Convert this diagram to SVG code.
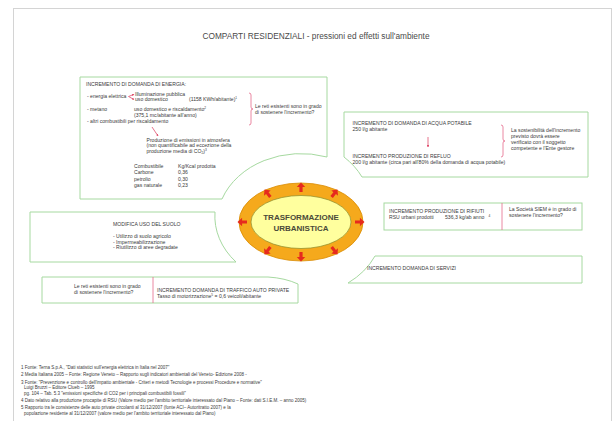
<svg xmlns="http://www.w3.org/2000/svg" width="615" height="421" viewBox="0 0 615 421">
<defs>
<style>
.page{fill:#fff;stroke:#d4d4d4;stroke-width:1}
.box{fill:#fff;stroke:#a6d9a0;stroke-width:1}
.t{font-family:"Liberation Sans",Arial,sans-serif;font-size:5.1px;fill:#3a3a3a}
.fn{font-family:"Liberation Sans",Arial,sans-serif;font-size:4.5px;fill:#3a3a3a}
.sup{font-size:3.2px}
.title{font-family:"Liberation Sans",Arial,sans-serif;font-size:8.3px;fill:#4a4a4a}
.ctr{font-family:"Liberation Sans",Arial,sans-serif;font-size:8px;font-weight:bold;fill:#4a4a3a;text-anchor:middle}
.br{fill:none;stroke:#e46a8c;stroke-width:0.8}
.ln{fill:none;stroke:#e0506e;stroke-width:0.8}
.ra{fill:#e62a1e}
</style>
<marker id="ah" viewBox="0 0 6 6" refX="5" refY="3" markerWidth="3" markerHeight="3" orient="auto">
<path d="M0,0 L6,3 L0,6 Z" fill="#e0506e"/>
</marker>
<polygon id="bar" points="0,0 4.2,4.6 1.6,4.6 1.6,9.5 -1.6,9.5 -1.6,4.6 -4.2,4.6"/>
</defs>
<rect x="0" y="0" width="615" height="421" fill="#fff"/>
<rect class="page" x="13.5" y="8.5" width="598" height="430"/>
<text class="title" x="316" y="39" text-anchor="middle">COMPARTI RESIDENZIALI - pressioni ed effetti sull'ambiente</text>

<g id="energia">
<path class="box" d="M80,77 H327 V157 A84,69 0 0,0 222,199 H80 Z"/>
<text class="t" x="86" y="86">INCREMENTO DI DOMANDA DI ENERGIA:</text>
<text class="t" x="87" y="98">- energia elettrica</text>
<text class="t" x="135" y="95.5">Illuminazione pubblica</text>
<text class="t" x="135" y="101">uso domestico</text>
<text class="t" x="189" y="101">(1158 KWh/abitante)<tspan class="sup" dy="-1.8">1</tspan></text>
<text class="t" x="87" y="110.8">- metano</text>
<text class="t" x="134" y="110.8">uso domestico e riscaldamento<tspan class="sup" dy="-1.8">2</tspan></text>
<text class="t" x="134" y="117">(375,1 mc/abitante all'anno)</text>
<text class="t" x="87" y="123.3">- altri combustibili per riscaldamento</text>
<text class="t" x="146.5" y="141.7">Produzione di emissioni in atmosfera</text>
<text class="t" x="146.5" y="147.4">(non quantificabile ad eccezione della</text>
<text class="t" x="146.5" y="153.2">produzione media di CO<tspan class="sup" dy="1">2</tspan><tspan dy="-1">)</tspan><tspan class="sup" dy="-1.8">3</tspan></text>
<text class="t" x="134" y="168.4">Combustibile</text>
<text class="t" x="178" y="168.4">Kg/Kcal prodotta</text>
<text class="t" x="134" y="174.4">Carbone</text>
<text class="t" x="178" y="174.4">0,36</text>
<text class="t" x="134" y="180.5">petrolio</text>
<text class="t" x="178" y="180.5">0,30</text>
<text class="t" x="134" y="186.5">gas naturale</text>
<text class="t" x="178" y="186.5">0,23</text>
<text class="t" x="255" y="107.7">Le reti esistenti sono in grado</text>
<text class="t" x="255" y="113.8">di sostenere l'incremento?</text>
</g>

<g id="acqua">
<path class="box" d="M344,112 H588 V177 H362 A84,69 0 0,0 344,157 Z"/>
<text class="t" x="352.5" y="125">INCREMENTO DI DOMANDA DI ACQUA POTABILE</text>
<text class="t" x="352.5" y="130.8">250 l/g abitante</text>
<text class="t" x="352.5" y="157.5">INCREMENTO PRODUZIONE DI REFLUO</text>
<text class="t" x="352.5" y="164">200 l/g abitante (circa pari all'80% della domanda di acqua potabile)</text>
<text class="t" x="511" y="131.8">La sostenibilità dell'incremento</text>
<text class="t" x="511" y="138">previsto dovrà essere</text>
<text class="t" x="511" y="144.2">verificato con il soggetto</text>
<text class="t" x="511" y="150.4">competente e l'Ente gestore</text>
</g>

<g id="rifiuti">
<rect class="box" x="384" y="203" width="198" height="27"/>
<text class="t" x="389" y="212.8">INCREMENTO PRODUZIONE DI RIFIUTI</text>
<text class="t" x="389" y="218.5">RSU urbani prodotti</text>
<text class="t" x="445" y="218.5">536,3 kg/ab anno</text>
<text class="t sup" x="488.5" y="216.5">4</text>
<text class="t" x="509" y="211">La Società SIEM è in grado di</text>
<text class="t" x="509" y="216.7">sostenere l'incremento?</text>
</g>

<g id="servizi">
<path class="box" d="M375,256 H582 V283 H348 A84,69 0 0,0 375,256 Z"/>
<text class="t" x="367" y="270.3">INCREMENTO DOMANDA DI SERVIZI</text>
</g>

<g id="suolo">
<path class="box" d="M30,212 H215 A84,69 0 0,0 236,262 H30 Z"/>
<text class="t" x="113" y="225.7">MODIFICA USO DEL SUOLO</text>
<text class="t" x="113" y="237.8">- Utilizzo di suolo agricolo</text>
<text class="t" x="113" y="243.5">- Impermeabilizzazione</text>
<text class="t" x="113" y="249.3">- Riutilizzo di aree degradate</text>
</g>

<g id="traffico">
<path class="box" d="M42,277 H268 Q285,278 298,284 V303 H42 Z"/>
<text class="t" x="74" y="287.6">Le reti esistenti sono in grado</text>
<text class="t" x="74" y="293.6">di sostenere l'incremento?</text>
<text class="t" x="157" y="291.8">INCREMENTO DOMANDA DI TRAFFICO AUTO PRIVATE</text>
<text class="t" x="157" y="298">Tasso di motorizzazione<tspan class="sup" dy="-1.8">5</tspan><tspan dy="1.8"> = 0,6 veicoli/abitante</tspan></text>
</g>

<g id="trasformazione">
<ellipse cx="301" cy="222" rx="62" ry="39" fill="#f5a91c" stroke="#d98a00" stroke-width="0.8"/>
<ellipse cx="301" cy="222" rx="50" ry="26.5" fill="#ffff9e" stroke="#8a8a2a" stroke-width="0.7"/>
<text class="ctr" x="301" y="219.6">TRASFORMAZIONE</text>
<text class="ctr" x="301" y="230.6">URBANISTICA</text>
<g class="ra">
<use href="#bar" transform="translate(301,182.5)"/>
<use href="#bar" transform="translate(301,261.5) rotate(180)"/>
<use href="#bar" transform="translate(237.5,222) rotate(-90)"/>
<use href="#bar" transform="translate(364.5,222) rotate(90)"/>
<use href="#bar" transform="translate(337.5,189.5) rotate(38)"/>
<use href="#bar" transform="translate(264.5,189.5) rotate(-38)"/>
<use href="#bar" transform="translate(337.5,254.5) rotate(142)"/>
<use href="#bar" transform="translate(264.5,254.5) rotate(-142)"/>
</g>
</g>

<g id="connettori">
<path class="ln" d="M128.5,96.5 L134,94.3" marker-end="url(#ah)"/>
<path class="ln" d="M128.5,96.5 L134,99.5" marker-end="url(#ah)"/>
<path class="ln" d="M152,127 L158,136" marker-end="url(#ah)"/>
<path class="ln" d="M428,137 V147" marker-end="url(#ah)"/>
<path class="br" d="M249,93 q2,0 2,2 V107 q0,2 2,2 q-2,0 -2,2 V123 q0,2 -2,2"/>
<path class="br" d="M501,125 q2,0 2,2 V139 q0,2 2,2 q-2,0 -2,2 V155 q0,2 -2,2"/>
<path class="br" d="M502,203 V230"/>
<path class="br" d="M153,277 V303"/>
</g>

<g id="note">
<text class="fn" x="21" y="369">1 Fonte: Terna S.p.A., "Dati statistici sull'energia elettrica in Italia nel 2007"</text>
<text class="fn" x="21" y="375.5">2 Media Italiana 2005 – Fonte: Regione Veneto – Rapporto sugli indicatori ambientali del Veneto- Edizione 2008 -</text>
<text class="fn" x="21" y="383.5">3 Fonte: "Prevenzione e controllo dell'impatto ambientale - Criteri e metodi Tecnologie e processi Procedure e normative"</text>
<text class="fn" x="24" y="389">Luigi Bruzzi – Editore Clueb – 1995</text>
<text class="fn" x="24" y="395">pg. 104 – Tab. 5.3 "emissioni specifiche di CO2 per i principali combustibili fossili"</text>
<text class="fn" x="21" y="401.5">4 Dato relativo alla produzione procapite di RSU (Valore medio per l'ambito territoriale interessato dal Piano – Fonte: dati S.I.E.M. – anno 2005)</text>
<text class="fn" x="21" y="409">5 Rapporto tra le consistenze delle auto private circolanti al 31/12/2007 (fonte ACI– Autoritratto 2007) e la</text>
<text class="fn" x="24" y="414.5">popolazione residente al 31/12/2007 (valore medio per l'ambito territoriale interessato dal Piano)</text>
</g>
</svg>
